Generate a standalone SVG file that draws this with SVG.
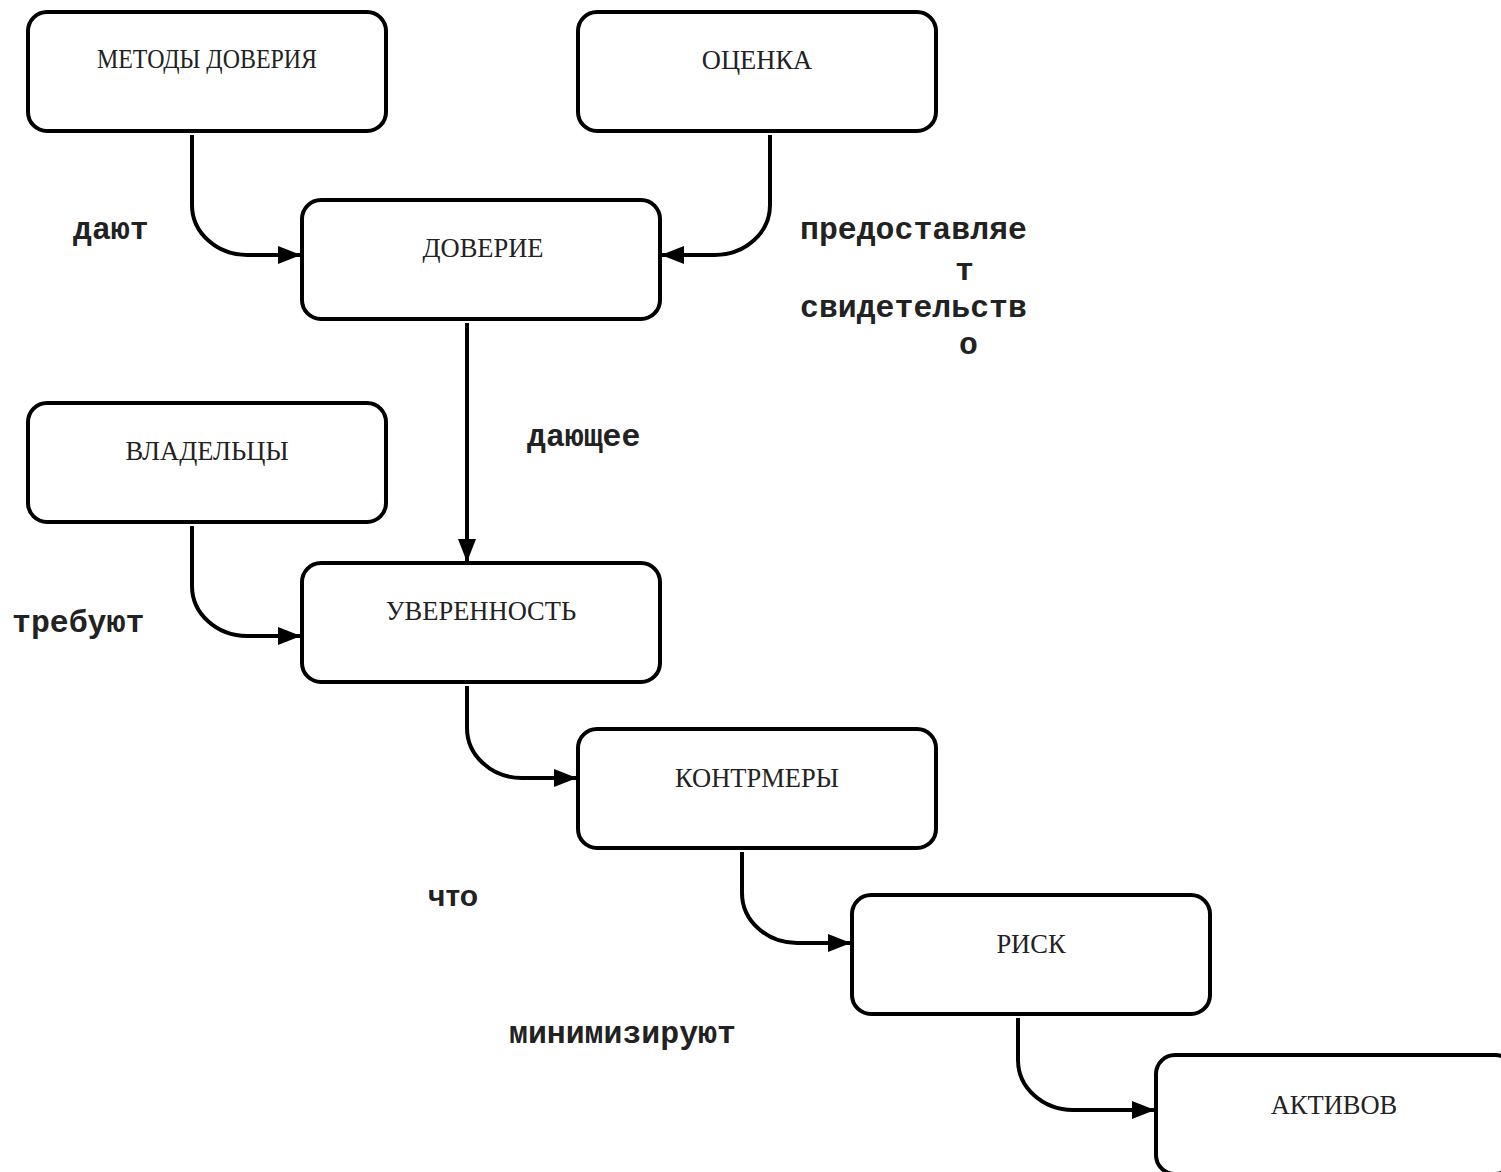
<svg xmlns="http://www.w3.org/2000/svg" width="1501" height="1172" viewBox="0 0 1501 1172">
<style>
.box{fill:#fff;stroke:#000;stroke-width:4}
.nt{font-family:"Liberation Serif","Times New Roman",serif;font-size:26.5px;fill:#222;text-anchor:middle}
.lb{font-family:"Liberation Mono","Courier New",monospace;font-size:31.5px;font-weight:bold;fill:#222}
.lbs{font-family:"Liberation Sans",Arial,sans-serif;font-size:30px;font-weight:bold;fill:#222}
.c{fill:none;stroke:#000;stroke-width:4;marker-end:url(#ah)}
</style>
<defs>
<marker id="ah" markerUnits="userSpaceOnUse" markerWidth="24" markerHeight="20" refX="23" refY="9" orient="auto">
<path d="M0,0 L23,9 L0,18 z" fill="#000"/>
</marker>
</defs>
<rect width="1501" height="1172" fill="#fff"/>
<g id="connectors">
<path class="c" d="M192 135 V205 C192 232.6 216.6 255 247 255 H301"/>
<path class="c" d="M770 135 V205 C770 232.6 745.4 255 715 255 H661"/>
<path class="c" d="M467 323 V562"/>
<path class="c" d="M192 526 V586 C192 613.6 216.6 636 247 636 H301"/>
<path class="c" d="M467 686 V728 C467 755.6 491.6 778 522 778 H577"/>
<path class="c" d="M742 852 V893 C742 920.6 766.6 943 797 943 H851"/>
<path class="c" d="M1018 1018 V1060 C1018 1087.6 1042.6 1110 1073 1110 H1155"/>
</g>
<g id="labels">
<text class="lb" x="73" y="239">дают</text>
<text class="lb" x="800" y="239">предоставляе</text>
<text class="lb" x="955" y="280">т</text>
<text class="lb" x="800" y="317">свидетельств</text>
<text class="lb" x="959" y="354">о</text>
<text class="lb" x="527" y="446">дающее</text>
<text class="lb" x="12" y="632">требуют</text>
<text class="lbs" x="428" y="906">что</text>
<text class="lb" x="509" y="1043">минимизируют</text>
</g>
<g id="n-metody">
<rect class="box" x="28" y="12" width="358" height="119" rx="19"/>
<text class="nt" x="207" y="68" textLength="220" lengthAdjust="spacingAndGlyphs">МЕТОДЫ ДОВЕРИЯ</text>
</g>
<g id="n-otsenka">
<rect class="box" x="578" y="12" width="358" height="119" rx="19"/>
<text class="nt" x="757" y="69">ОЦЕНКА</text>
</g>
<g id="n-doverie">
<rect class="box" x="302" y="200" width="358" height="119" rx="19"/>
<text class="nt" x="483" y="257">ДОВЕРИЕ</text>
</g>
<g id="n-vladeltsy">
<rect class="box" x="28" y="403" width="358" height="119" rx="19"/>
<text class="nt" x="207" y="460">ВЛАДЕЛЬЦЫ</text>
</g>
<g id="n-uverennost">
<rect class="box" x="302" y="563" width="358" height="119" rx="19"/>
<text class="nt" x="481" y="620">УВЕРЕННОСТЬ</text>
</g>
<g id="n-kontrmery">
<rect class="box" x="578" y="729" width="358" height="119" rx="19"/>
<text class="nt" x="757" y="787">КОНТРМЕРЫ</text>
</g>
<g id="n-risk">
<rect class="box" x="852" y="895" width="358" height="119" rx="19"/>
<text class="nt" x="1031" y="953">РИСК</text>
</g>
<g id="n-aktivov">
<rect class="box" x="1156" y="1055" width="358" height="119" rx="19"/>
<text class="nt" x="1334" y="1114">АКТИВОВ</text>
</g>
</svg>
